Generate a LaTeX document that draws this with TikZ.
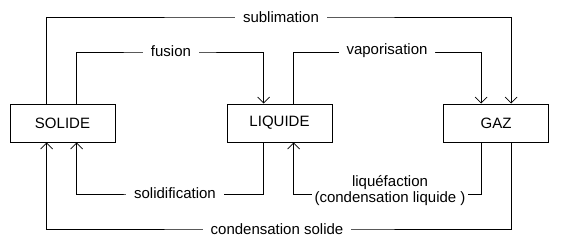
\documentclass[tikz,border=0pt]{standalone}
\usepackage{fontspec}
\setmainfont{Liberation Sans}
\usetikzlibrary{arrows.meta}
\begin{document}
\begin{tikzpicture}[x=1pt,y=-1pt,
  box/.style={draw,line width=0.8pt,minimum width=105pt,minimum height=38pt,inner sep=0pt,font=\fontsize{15}{17}\selectfont},
  conn/.style={line width=0.8pt,-{Straight Barb[length=6pt,width=12pt]}},
  lbl/.style={fill=white,inner xsep=8pt,inner ysep=2pt,font=\fontsize{15}{17}\selectfont}]
\useasboundingbox (0,0) rectangle (561,247);
\fill[white] (0,0) rectangle (561,247);
\node[box] (solide) at (62.5,123) {SOLIDE};
\node[box] (liquide) at (279.5,123) {LIQUIDE};
\node[box] (gaz) at (496,123) {GAZ};
% top connectors
\draw[conn] ([xshift=37pt]solide.north west) |- (280,17) -| ([xshift=68pt]gaz.north west);
\draw[conn] ([xshift=67pt]solide.north west) |- (170,52) -| ([xshift=37pt]liquide.north west);
\draw[conn] ([xshift=67pt]liquide.north west) |- (390,52) -| ([xshift=38pt]gaz.north west);
% bottom connectors
\draw[conn] ([xshift=37pt]liquide.south west) |- (170,194) -| ([xshift=67pt]solide.south west);
\draw[conn] ([xshift=38pt]gaz.south west) |- (390,194) -| ([xshift=67pt]liquide.south west);
\draw[conn] ([xshift=68pt]gaz.south west) |- (280,229) -| ([xshift=37pt]solide.south west);
% labels
\node[lbl] (lsub) at (281,17) {sublimation};
\node[lbl] (lfus) at (171,51) {fusion};
\node[lbl] (lvap) at (387,51) {vaporisation};
\node[lbl] (lsol) at (175,193) {solidification};
\node[lbl,align=center,inner xsep=3pt,inner ysep=1pt,font=\fontsize{15}{16}\selectfont] (lliq) at (390,191) {liquéfaction\\(condensation liquide )};
\node[lbl] (lcon) at (277,229) {condensation solide};
\end{tikzpicture}
\end{document}
